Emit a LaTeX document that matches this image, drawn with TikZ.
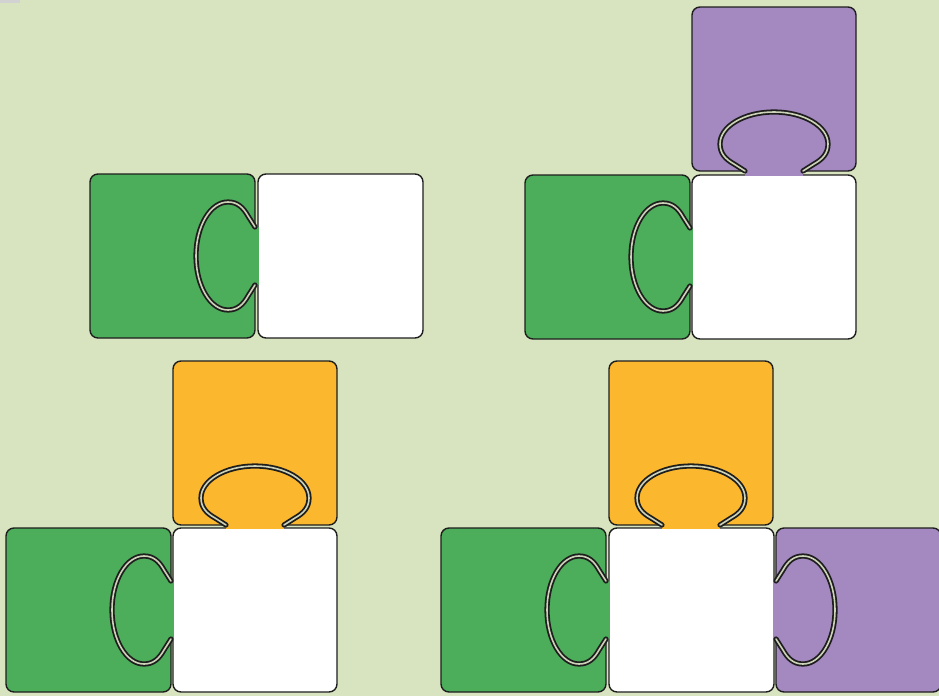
\documentclass[tikz,border=0pt]{standalone}
\definecolor{bg}{HTML}{D8E4C0}
\definecolor{pgreen}{HTML}{4CAD5A}
\definecolor{ppurple}{HTML}{A488C0}
\definecolor{porange}{HTML}{FBB72D}
\definecolor{pborder}{HTML}{1E1E1E}
\definecolor{tabin}{HTML}{CDD3B8}
\tikzset{
  piece/.style={draw=pborder, line width=1.4pt, rounded corners=8pt},
  tabline/.style={draw=pborder, line width=1.8pt, double=tabin, double distance=1.6pt, line join=round, line cap=round}
}
\newcommand\tabshape[3]{%
  \begin{scope}[#1]
    \fill[#2] (0.8,-29) rectangle (-#3-1.2,29);
    \draw[tabline] (0,-29) -- (7,-40) .. controls (12,-49) and (18,-54) .. (27,-54)
      .. controls (44.7,-54) and (59,-29.8) .. (59,0)
      .. controls (59,29.8) and (44.7,54) .. (27,54)
      .. controls (18,54) and (12,49) .. (7,40) -- (0,29);
  \end{scope}}
\begin{document}
\begin{tikzpicture}[x=1pt,y=-1pt]
\useasboundingbox (0,0) rectangle (939,696);
\clip (0,0) rectangle (939,696);
\fill[bg] (0,0) rectangle (939,696);
\fill[gray!35] (0,0) rectangle (20,2.5);
% group 1
\filldraw[piece,fill=white] (258,174) rectangle ++(165,164);
\filldraw[piece,fill=pgreen] (90,174) rectangle ++(165,164);
\tabshape{shift={(255,256)},x={(-1pt,0pt)},y={(0pt,-1pt)}}{pgreen}{3}
% group 2
\filldraw[piece,fill=white] (692,175) rectangle ++(164,164);
\filldraw[piece,fill=pgreen] (525,175) rectangle ++(165,164);
\filldraw[piece,fill=ppurple] (692,7) rectangle ++(164,164);
\tabshape{shift={(690,257)},x={(-1pt,0pt)},y={(0pt,-1pt)}}{pgreen}{2}
\tabshape{shift={(774,171)},x={(0pt,1pt)},y={(1pt,0pt)}}{ppurple}{4}
% group 3
\filldraw[piece,fill=white] (173,528) rectangle ++(164,164);
\filldraw[piece,fill=pgreen] (6,528) rectangle ++(165,164);
\filldraw[piece,fill=porange] (173,361) rectangle ++(164,164);
\tabshape{shift={(171,610)},x={(-1pt,0pt)},y={(0pt,-1pt)}}{pgreen}{2}
\tabshape{shift={(255,525)},x={(0pt,1pt)},y={(1pt,0pt)}}{porange}{3}
% group 4
\filldraw[piece,fill=white] (609,528) rectangle ++(165,164);
\filldraw[piece,fill=pgreen] (441,528) rectangle ++(165,164);
\filldraw[piece,fill=porange] (609,361) rectangle ++(164,164);
\filldraw[piece,fill=ppurple] (776,528) rectangle ++(165,164);
\tabshape{shift={(606,610)},x={(-1pt,0pt)},y={(0pt,-1pt)}}{pgreen}{3}
\tabshape{shift={(691,525)},x={(0pt,1pt)},y={(1pt,0pt)}}{porange}{3}
\tabshape{shift={(776,610)},x={(1pt,0pt)},y={(0pt,-1pt)}}{ppurple}{2}
\end{tikzpicture}
\end{document}
